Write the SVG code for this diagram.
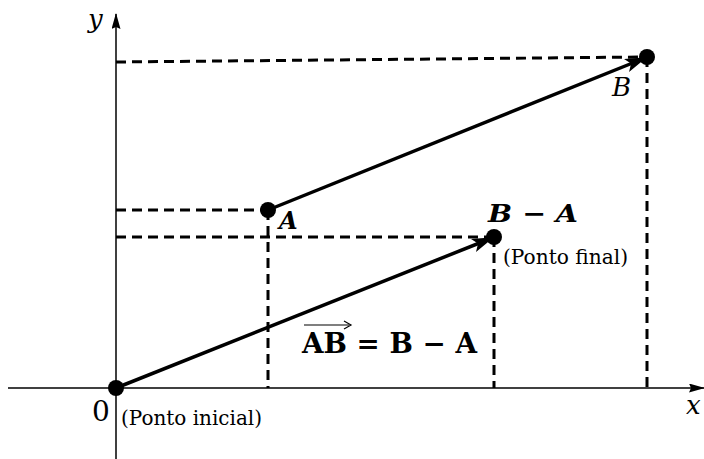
<svg xmlns="http://www.w3.org/2000/svg" width="704" height="459" viewBox="0 0 704 459">
<style>
.axis{stroke:#000;stroke-width:1.5;fill:none}
.dash{stroke:#000;stroke-width:3;stroke-dasharray:10,6;fill:none}
.vec{stroke:#000;stroke-width:3.5;fill:none}
.t{font-family:'DejaVu Serif',serif;fill:#000}
.it{font-style:italic}
.b{font-weight:bold}
</style>
<defs>
<marker id="ah" markerWidth="16" markerHeight="9" refX="15" refY="4.5" orient="auto" markerUnits="userSpaceOnUse" viewBox="0 0 16 9">
<path d="M0,0 L16,4.5 L0,9 L2,4.5 z" fill="#000"/>
</marker>
<marker id="vh" markerWidth="22" markerHeight="14" refX="20" refY="7" orient="auto" markerUnits="userSpaceOnUse" viewBox="0 0 22 14">
<path d="M0,0 L22,7 L0,14 L5,7 z" fill="#000"/>
</marker>
</defs>
<g id="connectors">
<line class="axis" x1="8" y1="388" x2="704" y2="388" marker-end="url(#ah)"/>
<line class="axis" x1="116" y1="459" x2="116" y2="14" marker-end="url(#ah)"/>
<line class="dash" x1="116" y1="62" x2="645" y2="57"/>
<line class="dash" x1="647" y1="57" x2="647" y2="388"/>
<line class="dash" x1="116" y1="210" x2="268" y2="210"/>
<line class="dash" x1="268" y1="210" x2="268" y2="388"/>
<line class="dash" x1="116" y1="237" x2="494" y2="237"/>
<line class="dash" x1="494" y1="237" x2="494" y2="388"/>
<line class="vec" x1="268" y1="210" x2="645" y2="58" marker-end="url(#vh)"/>
<line class="vec" x1="116" y1="388" x2="492" y2="238" marker-end="url(#vh)"/>
</g>
<g id="origin">
<circle cx="116" cy="388" r="8"/>
<text class="t" x="92" y="421" font-size="28">0</text>
<text class="t" x="121" y="425" font-size="21" textLength="141" lengthAdjust="spacingAndGlyphs">(Ponto inicial)</text>
</g>
<g id="A">
<circle cx="268" cy="210" r="8"/>
<text class="t it b" x="279" y="229" font-size="24">A</text>
</g>
<g id="B">
<circle cx="647" cy="57" r="8"/>
<text class="t it" x="612" y="96" font-size="26">B</text>
</g>
<g id="BminusA">
<circle cx="494" cy="237" r="8"/>
<text class="t it b" x="488" y="222" font-size="24" textLength="90" lengthAdjust="spacingAndGlyphs">B − A</text>
<text class="t" x="503" y="264" font-size="21" textLength="125" lengthAdjust="spacingAndGlyphs">(Ponto final)</text>
</g>
<g id="formula">
<text class="t b" x="302" y="353" font-size="27" textLength="175" lengthAdjust="spacingAndGlyphs">AB = B − A</text>
<line x1="304" y1="325" x2="349" y2="325" stroke="#000" stroke-width="1.2"/>
<path d="M344,321 L351,325 L344,329" stroke="#000" stroke-width="1.2" fill="none"/>
</g>
<g id="labels">
<text class="t it" x="88" y="28" font-size="26">y</text>
<text class="t it" x="686" y="414" font-size="26">x</text>
</g>
</svg>
